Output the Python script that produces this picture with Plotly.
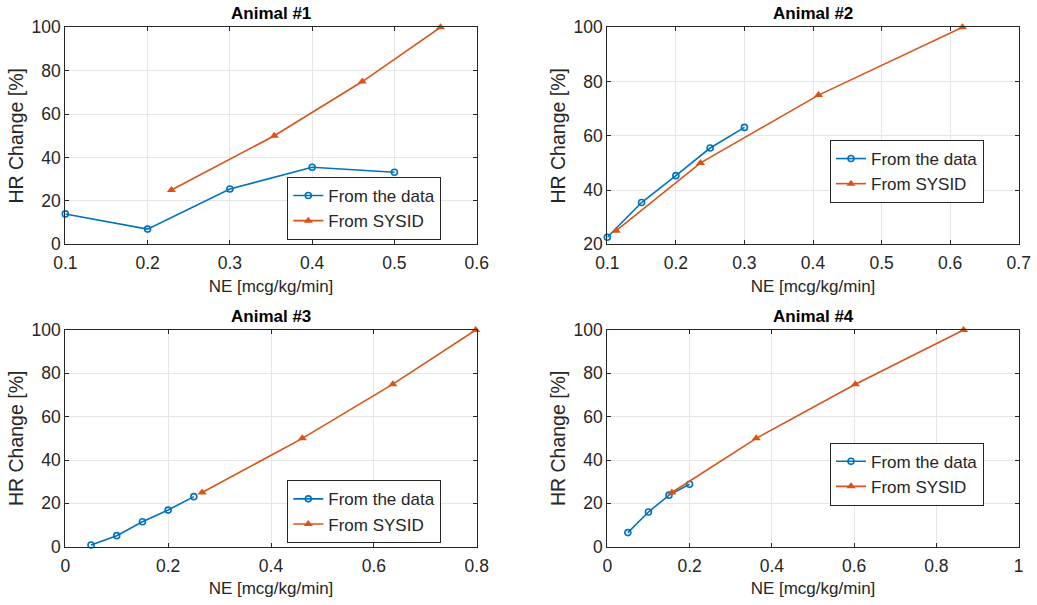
import plotly.graph_objects as go

# ---- data ----
titles = ["Animal #1", "Animal #2", "Animal #3", "Animal #4"]

a1_data_x = [0.1, 0.2, 0.3, 0.4, 0.5]
a1_data_y = [14.0, 7.0, 25.5, 35.5, 33.2]
a1_sys_x = [0.229, 0.354, 0.461, 0.556]
a1_sys_y = [25, 50, 75, 100]

a2_data_x = [0.1, 0.15, 0.2, 0.25, 0.3]
a2_data_y = [22.6, 35.4, 45.3, 55.5, 63.1]
a2_sys_x = [0.113, 0.236, 0.408, 0.618]
a2_sys_y = [25, 50, 75, 100]

a3_data_x = [0.05, 0.1, 0.15, 0.2, 0.25]
a3_data_y = [0.8, 5.1, 11.5, 16.9, 23.1]
a3_sys_x = [0.266, 0.461, 0.637, 0.798]
a3_sys_y = [25, 50, 75, 100]

a4_data_x = [0.05, 0.1, 0.15, 0.2]
a4_data_y = [6.5, 16.0, 23.8, 28.8]
a4_sys_x = [0.157, 0.362, 0.603, 0.866]
a4_sys_y = [25, 50, 75, 100]

series = [
    (a1_data_x, a1_data_y, a1_sys_x, a1_sys_y),
    (a2_data_x, a2_data_y, a2_sys_x, a2_sys_y),
    (a3_data_x, a3_data_y, a3_sys_x, a3_sys_y),
    (a4_data_x, a4_data_y, a4_sys_x, a4_sys_y),
]

x_ranges = [[0.1, 0.6], [0.1, 0.7], [0, 0.8], [0, 1]]
x_dticks = [0.1, 0.1, 0.2, 0.2]
y_ranges = [[0, 100], [20, 100], [0, 100], [0, 100]]

# ---- layout geometry ----
W, H = 1037, 605
xdom = [[65.3 / W, 476.7 / W], [607.3 / W, 1018.7 / W]]
ydom = [[1 - 244.3 / H, 1 - 27.3 / H], [1 - 546.7 / H, 1 - 330 / H]]
# legend anchor: (right x, y, yanchor)
legend_pos = [(441.3, 240.0, "bottom"), (984.0, 140.0, "top"),
              (441.3, 543.3, "bottom"), (984.0, 442.7, "top")]

BLUE = "#0072BD"
ORANGE = "#D95319"
TXT = "#262626"
FONT = "Liberation Sans, Arial, sans-serif"

fig = go.Figure()
layout = dict(
    width=W, height=H,
    margin=dict(l=0, r=0, t=0, b=0, autoexpand=False),
    paper_bgcolor="white", plot_bgcolor="white",
    font=dict(family=FONT, color=TXT, size=17),
    annotations=[],
)

for i in range(4):
    r, c = divmod(i, 2)
    sfx = "" if i == 0 else str(i + 1)
    xa, ya = "x" + sfx, "y" + sfx
    lg = "legend" + sfx
    dx, dy, sx, sy = series[i]
    fig.add_trace(go.Scatter(
        x=dx, y=dy, mode="lines+markers", name="From the data",
        xaxis=xa, yaxis=ya, legend=lg, cliponaxis=False,
        line=dict(color=BLUE, width=1.6),
        marker=dict(symbol="circle-open", size=6, color=BLUE, line=dict(width=1.6)),
    ))
    fig.add_trace(go.Scatter(
        x=sx, y=sy, mode="lines+markers", name="From SYSID",
        xaxis=xa, yaxis=ya, legend=lg, cliponaxis=False,
        line=dict(color=ORANGE, width=1.6),
        marker=dict(symbol="triangle-up", size=8, color=ORANGE),
    ))
    axcommon = dict(
        showline=True, linecolor=TXT, linewidth=1, mirror="ticks",
        ticks="inside", ticklen=4, tickcolor=TXT, automargin=False,
        showgrid=True, gridcolor="#e6e6e6", gridwidth=1,
        zeroline=False, tickfont=dict(size=17.5, color=TXT),
    )
    layout["xaxis" + sfx] = dict(
        axcommon, domain=xdom[c], anchor=ya, range=x_ranges[i],
        dtick=x_dticks[i], tick0=0, ticklabelstandoff=3,
        title=dict(text="NE [mcg/kg/min]", font=dict(size=17, color=TXT), standoff=7),
    )
    layout["yaxis" + sfx] = dict(
        axcommon, domain=ydom[r], anchor=xa, range=y_ranges[i], dtick=20,
        title=dict(text="HR Change [%]", font=dict(size=19.5, color=TXT), standoff=2),
    )
    lx, ly, yanc = legend_pos[i]
    layout[lg] = dict(
        x=lx / W, y=1 - ly / H, xanchor="right", yanchor=yanc,
        bgcolor="white", bordercolor=TXT, borderwidth=1,
        font=dict(size=17, color=TXT), itemwidth=30,
        tracegroupgap=0,
    )
    layout["annotations"].append(dict(
        text="<b>" + titles[i] + "</b>", xref="paper", yref="paper",
        x=(xdom[c][0] + xdom[c][1]) / 2, y=ydom[r][1] + 13.5 / H,
        xanchor="center", yanchor="middle", showarrow=False,
        font=dict(size=17, color="#000000"),
    ))

fig.update_layout(**layout)
fig.write_html("out.html")
